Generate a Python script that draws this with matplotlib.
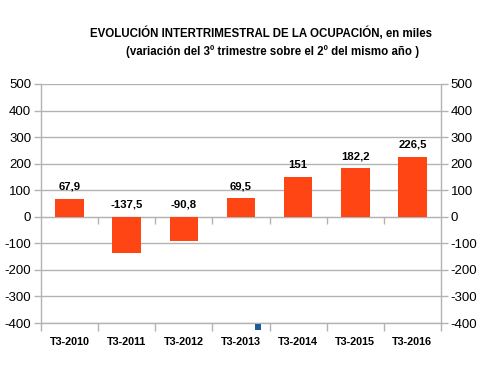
import matplotlib
matplotlib.use("Agg")
import matplotlib.pyplot as plt
from matplotlib.ticker import FixedLocator, NullLocator
from matplotlib.patches import Rectangle

categories = ["T3-2010", "T3-2011", "T3-2012", "T3-2013", "T3-2014", "T3-2015", "T3-2016"]
values = [67.9, -137.5, -90.8, 69.5, 151, 182.2, 226.5]
labels = ["67,9", "-137,5", "-90,8", "69,5", "151", "182,2", "226,5"]
yticks = [-400, -300, -200, -100, 0, 100, 200, 300, 400, 500]

plt.rcParams['font.family'] = ['Liberation Sans', 'DejaVu Sans']

fig = plt.figure(figsize=(5.0, 3.72), dpi=100)
ax = fig.add_axes([41/500, 1-323/372, 400/500, 239/372])

bar_color = "#ff4513"
grid_color = "#b3b3b3"
x = list(range(len(categories)))
ax.bar(x, values, width=0.5, color=bar_color, zorder=3)

ax.set_xlim(-0.5, len(categories) - 0.5)
ax.set_ylim(-400, 500)
ax.set_yticks(yticks)
ax.set_yticklabels([str(t) for t in yticks])
ax.yaxis.grid(True, color=grid_color, linewidth=1.0, zorder=0)
ax.set_axisbelow(True)

ax.set_xticks(x)
ax.set_xticklabels(categories, fontsize=7.8, fontweight='bold')
ax.xaxis.set_minor_locator(FixedLocator([i + 0.5 for i in range(-1, len(categories))]))
ax.tick_params(axis='x', which='major', length=0, pad=10)
ax.tick_params(axis='x', which='minor', length=6, color=grid_color, width=1, direction='out')
ax.tick_params(axis='y', which='major', length=5, color=grid_color, width=1,
               labelsize=9.5, left=True, right=True, labelleft=True, labelright=True, pad=2)

ax.spines['top'].set_visible(False)
for s in ['left', 'right', 'bottom']:
    ax.spines[s].set_color(grid_color)
    ax.spines[s].set_linewidth(1.0)

# zero line ticks
sec = ax.secondary_xaxis(400/900)
sec.xaxis.set_major_locator(NullLocator())
sec.xaxis.set_minor_locator(FixedLocator([i + 0.5 for i in range(0, len(categories) - 1)]))
sec.tick_params(axis='x', which='minor', length=5, color=grid_color, width=1, direction='out')
sec.spines['bottom'].set_color(grid_color)

for xi, v, lab in zip(x, values, labels):
    ax.annotate(lab, (xi, max(v, 0)), xytext=(0, 5), textcoords='offset points',
                ha='center', va='bottom', fontsize=8.2, fontweight='bold', zorder=4)

fig.text(261.5/500, 1-33/372, "EVOLUCIÓN INTERTRIMESTRAL DE LA OCUPACIÓN, en miles",
         ha='center', va='center', fontsize=8.3, fontweight='bold')
fig.text(273/500, 1-52/372, "(variación del 3º trimestre sobre el 2º del mismo año )",
         ha='center', va='center', fontsize=8.3, fontweight='bold')

fig.patches.append(Rectangle((255/500, 1-330/372), 6/500, 6/372, transform=fig.transFigure,
                             facecolor="#1f5a9a", edgecolor='none'))

fig.savefig("out.png", dpi=100)
